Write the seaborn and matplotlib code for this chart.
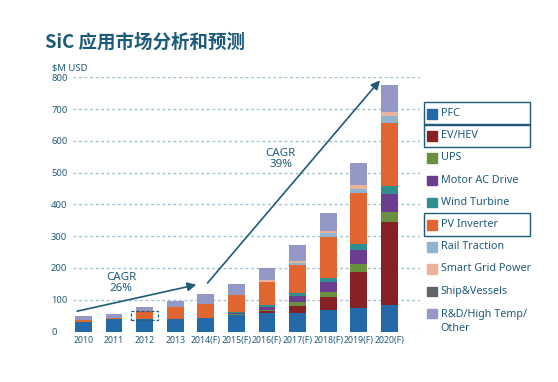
import matplotlib
matplotlib.use('Agg')
import matplotlib.pyplot as plt
import seaborn as sns
import numpy as np
from matplotlib.patches import Rectangle

years = ["2010", "2011", "2012", "2013", "2014(F)", "2015(F)", "2016(F)",
         "2017(F)", "2018(F)", "2019(F)", "2020(F)"]

# $M USD per application
pfc      = [30, 38, 38, 39, 44, 51, 57, 58, 69, 74, 84]
ev_hev   = [0, 0, 0, 0, 0, 2, 6, 22, 40, 113, 260]
ups      = [0, 0, 0, 0, 0, 2, 6, 13, 15, 25, 32]
motor    = [0, 0, 0, 0, 0, 2, 9, 19, 32, 44, 57]
wind     = [0, 0, 0, 0, 0, 3, 6, 9, 13, 19, 25]
pv       = [7, 6, 27, 38, 43, 55, 72, 88, 128, 161, 199]
rail     = [0, 0, 0, 0, 0, 0, 0, 6, 13, 14, 22]
smart    = [0, 0, 0, 0, 0, 0, 5, 7, 6, 12, 11]
ship     = [0, 0, 0, 0, 0, 0, 0, 0, 0, 0, 0]
rd_other = [12, 11, 12, 20, 31, 35, 39, 50, 57, 68, 86]

labels = ["PFC", "EV/HEV", "UPS", "Motor AC Drive", "Wind Turbine", "PV Inverter",
          "Rail Traction", "Smart Grid Power", "Ship&Vessels", "R&D/High Temp/\nOther"]
series = [pfc, ev_hev, ups, motor, wind, pv, rail, smart, ship, rd_other]
colors = ["#2469a8", "#862226", "#6a8f3f", "#6a3d8f", "#2f8f8f", "#e06530",
          "#8fb4d0", "#eab49c", "#5f6468", "#9498c6"]
boxed = ["PFC", "EV/HEV", "PV Inverter"]

txt_col = "#205b7a"

sns.set_theme(style="white")
plt.rcParams['font.family'] = ['Noto Sans', 'Noto Sans CJK SC', 'DejaVu Sans']

W, H = 558, 382
fig = plt.figure(figsize=(W / 100, H / 100), dpi=100)
ax = fig.add_axes([73 / W, 1 - 331.5 / H, (420 - 73) / W, (331.5 - 77.3) / H])

bottom = np.zeros(len(years))
for vals, c in zip(series, colors):
    sns.barplot(x=years, y=vals, bottom=bottom, color=c, width=0.55,
                saturation=1, errorbar=None, ax=ax, linewidth=0)
    bottom = bottom + np.array(vals)

ax.set_xlim(-0.337, 11.0)
ax.set_ylim(0, 800)
ax.set_yticks(range(0, 801, 100))
for y in range(0, 801, 100):
    ax.axhline(y, color="#a3c0d0", lw=1, ls=(0, (2, 2)), zorder=0)
for s in ax.spines.values():
    s.set_visible(False)
ax.tick_params(axis='y', length=0, pad=15.8, labelsize=6.8, labelcolor=txt_col)
ax.tick_params(axis='x', length=0, pad=3, labelsize=6.3, labelcolor=txt_col)
for t in ax.get_yticklabels():
    t.set_ha('left')
ax.set_xlabel("")
ax.set_ylabel("")

# CAGR arrows
ax.annotate("", xy=(3.78, 149), xytext=(-0.29, 62),
            arrowprops=dict(arrowstyle='-|>', color=txt_col, lw=1.2, mutation_scale=13),
            annotation_clip=False)
ax.text(1.23, 152, "CAGR\n26%", ha='center', va='center', fontsize=8.3,
        color=txt_col, linespacing=0.95)
ax.annotate("", xy=(9.75, 797), xytext=(4.0, 146),
            arrowprops=dict(arrowstyle='-|>', color=txt_col, lw=1.2, mutation_scale=13),
            annotation_clip=False)
ax.text(6.45, 543, "CAGR\n39%", ha='center', va='center', fontsize=8.3,
        color=txt_col, linespacing=0.95)

# dashed highlight around 2012
ax.add_patch(Rectangle((2 - 0.45, 36), 0.9, 27, fill=False, ec=txt_col,
                       lw=0.9, ls=(0, (2.5, 1.5)), zorder=5))

# title and unit
fig.text(45 / W, 1 - 42.5 / H, "SiC 应用市场分析和预测", fontsize=13.3, fontweight='bold',
         color="#1b5a7a", va='center', ha='left',
         family=['Noto Sans CJK SC', 'DejaVu Sans'])
fig.text(52 / W, 1 - 68 / H, "$M USD", fontsize=6.8, color=txt_col, va='center')

# legend
for i, (lab, c) in enumerate(zip(labels, colors)):
    yc = 113.5 + i * 22.2
    fig.patches.append(Rectangle((427.3 / W, 1 - (yc + 5) / H), 10 / W, 9.5 / H,
                                 transform=fig.transFigure, color=c, figure=fig))
    lines = lab.split("\n")
    if len(lines) > 1:
        fig.text(440.7 / W, 1 - (yc + 4) / H, lines[0], fontsize=7.8,
                 color=txt_col, va='baseline', ha='left')
        fig.text(440.7 / W, 1 - (yc + 17.3) / H, lines[1], fontsize=7.8,
                 color=txt_col, va='baseline', ha='left')
    else:
        fig.text(440.7 / W, 1 - yc / H, lab, fontsize=7.8, color=txt_col,
                 va='center', ha='left')
    if lab in boxed:
        fig.patches.append(Rectangle((424.3 / W, 1 - (yc + 11.5) / H), 105.7 / W, 23.4 / H,
                                     transform=fig.transFigure, fill=False, ec="#1f5a7a",
                                     lw=1, figure=fig))

fig.savefig("out.png", dpi=100)
